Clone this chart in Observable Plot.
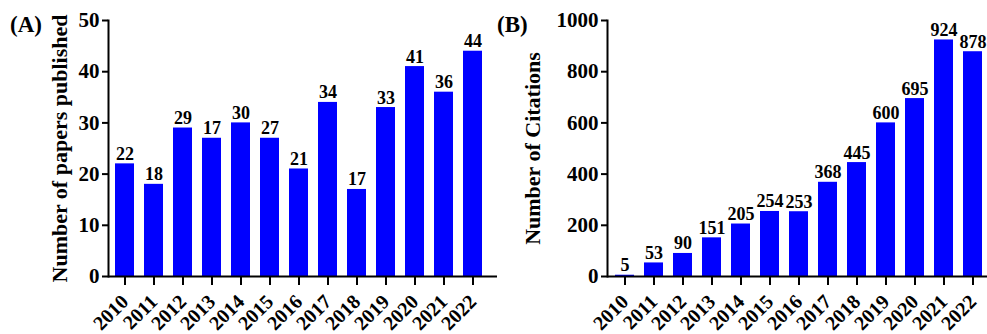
<!DOCTYPE html>
<html>
<head>
<meta charset="utf-8">
<script src="https://cdn.jsdelivr.net/npm/d3@7"></script>
<script src="https://cdn.jsdelivr.net/npm/@observablehq/plot@0.6"></script>
<style>
  html, body { margin: 0; padding: 0; background: #fff; }
  #wrap { position: relative; width: 987px; height: 334px; overflow: hidden; }
  .panel { position: absolute; top: 0; }
  .panel svg, .panel svg text { font-family: 'Liberation Serif', 'Times New Roman', serif !important; font-weight: bold; font-variant: normal !important; font-variant-numeric: normal !important; }
  .tag { position: absolute; top: 12px; font-family: 'Liberation Serif', serif; font-weight: bold; font-size: 23px; color: #000; }
</style>
</head>
<body>
<div id="wrap">
  <div class="panel" id="pa" style="left:0px"></div>
  <div class="panel" id="pb" style="left:490px"></div>
  <div class="tag" style="left:10px">(A)</div>
  <div class="tag" style="left:497px">(B)</div>
</div>
<script>
const years = ["2010","2011","2012","2013","2014","2015","2016","2017","2018","2019","2020","2021","2022"];
const papers = [22, 18, 29, 27, 30, 27, 21, 34, 17, 33, 41, 36, 44];
const paperLabels = ["22","18","29","17","30","27","21","34","17","33","41","36","44"];
const citations = [5, 53, 90, 151, 205, 254, 253, 368, 445, 600, 695, 924, 878];
const citationLabels = ["5","53","90","151","205","254","253","368","445","600","695","924","878"];
const papersTicks = [0, 10, 20, 30, 40, 50];
const citationTicks = [0, 200, 400, 600, 800, 1000];

const font = "Liberation Serif";

function panel({values, labels, ticks, yMax, title, marginLeft, xRange, labelOffset}) {
  const data = years.map((y, i) => ({year: y, value: values[i], label: labels[i]}));
  return Plot.plot({
    width: 497,
    height: 334,
    marginLeft,
    marginRight: 0,
    marginTop: 20,
    marginBottom: 58,
    style: {fontFamily: font, fontWeight: "bold", fontSize: "18px", color: "#000", background: "transparent", overflow: "visible"},
    x: {type: "band", domain: years, range: xRange, paddingInner: 0.33, paddingOuter: 0.165},
    y: {domain: [0, yMax]},
    marks: [
      Plot.barY(data, {x: "year", y: "value", fill: "#0000ff"}),
      Plot.text(data, {x: "year", y: "value", text: "label", dy: -4, lineAnchor: "bottom", fontSize: 18, fontWeight: "bold", fontFamily: font, fill: "#000"}),
      Plot.axisY({ticks, tickFormat: d => String(d), tickSize: 6, tickPadding: 3, fontSize: 21, fontWeight: "bold", fontFamily: font, fontVariant: "normal", strokeWidth: 2, label: title, labelAnchor: "center", labelOffset, labelArrow: false}),
      Plot.axisX({tickRotate: -45, tickSize: 9, tickPadding: 13, fontSize: 20, fontWeight: "bold", fontFamily: font, fontVariant: "normal", strokeWidth: 2, label: null}),
      Plot.ruleY([0], {strokeWidth: 2}),
      Plot.frame({anchor: "left", strokeWidth: 2})
    ]
  });
}

const a = panel({values: papers, labels: paperLabels, ticks: papersTicks, yMax: 50, title: "Number of papers published", marginLeft: 108, xRange: [108, 489.3], labelOffset: 57});
const b = panel({values: citations, labels: citationLabels, ticks: citationTicks, yMax: 1000, title: "Number of Citations", marginLeft: 117, xRange: [118.1, 498.7], labelOffset: 83});
for (const svg of [a, b]) {
  svg.querySelectorAll("[aria-label='y-axis label'] text, [aria-label='y-axis label']").forEach(t => t.setAttribute("font-size", 22));
}
document.getElementById("pa").appendChild(a);
document.getElementById("pb").appendChild(b);
</script>
</body>
</html>
